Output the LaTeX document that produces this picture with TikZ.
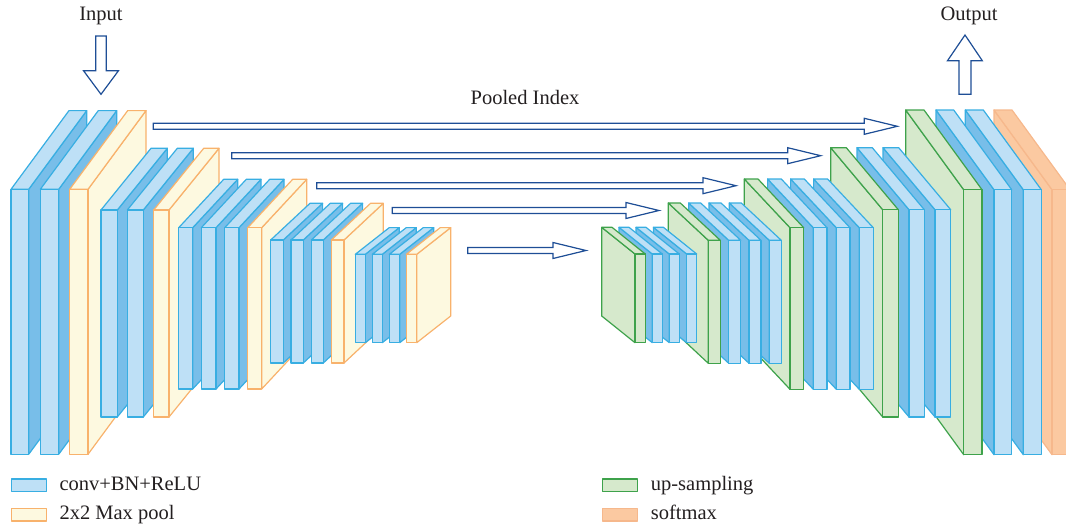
\documentclass[tikz,border=0pt]{standalone}
\usepackage{fontspec}
\setmainfont{Liberation Serif}
\usetikzlibrary{calc}

\definecolor{convfill}{RGB}{190,224,246}
\definecolor{convdark}{RGB}{120,190,233}
\definecolor{convline}{RGB}{56,174,226}
\definecolor{poolfill}{RGB}{253,249,224}
\definecolor{poolline}{RGB}{248,178,108}
\definecolor{upsfill}{RGB}{214,233,204}
\definecolor{upsline}{RGB}{62,162,75}
\definecolor{softfill}{RGB}{251,201,161}
\definecolor{softline}{RGB}{246,184,140}
\definecolor{idxblue}{RGB}{30,78,150}
\definecolor{txt}{RGB}{35,31,32}

\tikzset{
  face/.style={line width=1.2pt, line join=round},
  conv front/.style={face, fill=convfill, draw=convline},
  conv top/.style={conv front},
  conv side/.style={face, fill=convdark, draw=convline},
  pool front/.style={face, fill=poolfill, draw=poolline},
  pool top/.style={pool front},
  pool side/.style={pool front},
  ups front/.style={face, fill=upsfill, draw=upsline},
  ups top/.style={ups front},
  ups side/.style={ups front},
  soft front/.style={face, fill=softfill, draw=softline},
  soft top/.style={soft front},
  soft side/.style={soft front},
  idxarrow/.style={draw=idxblue, fill=white, line width=1.2pt, line join=miter},
  lbl/.style={text=txt, font=\fontsize{20.5}{24}\selectfont, inner sep=0pt},
  legbox/.style={minimum width=35pt, minimum height=12.7pt, inner sep=0pt,
                 anchor=north west, line width=1.3pt}
}

% encoder slab: depth goes up and to the right
% #1 kind, #2 x0, #3 x1, #4 y top, #5 y bottom, #6 dx, #7 dy
\newcommand\encslab[7]{%
  \draw[#1 side] (#3,#4) -- (#3,#5) -- ({#3+#6},{#5+#7}) -- ({#3+#6},{#4+#7}) -- cycle;
  \draw[#1 top] (#2,#4) -- (#3,#4) -- ({#3+#6},{#4+#7}) -- ({#2+#6},{#4+#7}) -- cycle;
  \draw[#1 front] (#2,#4) rectangle (#3,#5);
}
% decoder slab: depth goes up and to the left
\newcommand\decslab[7]{%
  \draw[#1 side] (#2,#4) -- (#2,#5) -- ({#2+#6},{#5+#7}) -- ({#2+#6},{#4+#7}) -- cycle;
  \draw[#1 top] (#2,#4) -- (#3,#4) -- ({#3+#6},{#4+#7}) -- ({#2+#6},{#4+#7}) -- cycle;
  \draw[#1 front] (#2,#4) rectangle (#3,#5);
}
% hollow horizontal arrow between two named coordinates
\newcommand\hollowarrow[2]{%
  \draw[idxarrow] ($(#1)+(0,-3)$) -- ($(#2)+(-33,-3)$) -- ($(#2)+(-33,-8)$) -- (#2)
    -- ($(#2)+(-33,8)$) -- ($(#2)+(-33,3)$) -- ($(#1)+(0,3)$) -- cycle;
}

\begin{document}
\begin{tikzpicture}[x=1pt,y=-1pt]
\useasboundingbox (0,0) rectangle (1066,527);
\clip (0,0) rectangle (1066,527);

% ---------------- encoder ----------------
\encslab{conv}{11}{28.7}{189.3}{454.3}{58}{-78.7}
\encslab{conv}{40.3}{58.7}{189.3}{454.3}{58}{-78.7}
\encslab{pool}{69.7}{88}{189.3}{454.3}{58}{-78.7}

\encslab{conv}{101}{117.3}{210}{417}{50}{-61.7}
\encslab{conv}{127.3}{143.3}{210}{417}{50}{-61.7}
\encslab{pool}{153.7}{169}{210}{417}{50}{-61.7}

\encslab{conv}{178.7}{192.7}{227.7}{389}{45}{-48.4}
\encslab{conv}{201.3}{216}{227.7}{389}{45}{-48.4}
\encslab{conv}{224.7}{239}{227.7}{389}{45}{-48.4}
\encslab{pool}{247.7}{261.7}{227.7}{389}{45}{-48.4}

\encslab{conv}{270.7}{283.3}{240}{363}{39.3}{-36.7}
\encslab{conv}{291}{303.3}{240}{363}{39.3}{-36.7}
\encslab{conv}{311.3}{323.3}{240}{363}{39.3}{-36.7}
\encslab{pool}{331.3}{344}{240}{363}{39.3}{-36.7}

\encslab{conv}{355.3}{365.3}{254.3}{342.7}{34}{-26.7}
\encslab{conv}{372.3}{382.3}{254.3}{342.7}{34}{-26.7}
\encslab{conv}{389.3}{399.7}{254.3}{342.7}{34}{-26.7}
\encslab{pool}{406.3}{416.7}{254.3}{342.7}{34}{-26.7}

% ---------------- decoder (painted right to left) ----------------
\decslab{soft}{1052}{1070}{189.7}{454.7}{-58}{-79.7}
\decslab{conv}{1023.3}{1041.3}{189.7}{454.7}{-58}{-79.7}
\decslab{conv}{994}{1011.7}{189.7}{454.7}{-58}{-79.7}
\decslab{ups}{963.7}{982}{189.7}{454.7}{-58}{-79.7}

\decslab{conv}{935}{950.7}{209.7}{417}{-52}{-62}
\decslab{conv}{909}{924.3}{209.7}{417}{-52}{-62}
\decslab{ups}{882.7}{898.3}{209.7}{417}{-52}{-62}

\decslab{conv}{859.3}{873.3}{227.7}{389.3}{-45.7}{-48.7}
\decslab{conv}{836.3}{850}{227.7}{389.3}{-45.7}{-48.7}
\decslab{conv}{813.3}{827}{227.7}{389.3}{-45.7}{-48.7}
\decslab{ups}{790}{803.7}{227.7}{389.3}{-45.7}{-48.7}

\decslab{conv}{769.3}{781.3}{240.3}{363.3}{-40}{-37.3}
\decslab{conv}{749}{761}{240.3}{363.3}{-40}{-37.3}
\decslab{conv}{728.7}{740.7}{240.3}{363.3}{-40}{-37.3}
\decslab{ups}{708.3}{720.3}{240.3}{363.3}{-40}{-37.3}

\decslab{conv}{686.7}{696.7}{254}{342.7}{-33.3}{-26.7}
\decslab{conv}{669.3}{679.3}{254}{342.7}{-33.3}{-26.7}
\decslab{conv}{652.3}{662.3}{254}{342.7}{-33.3}{-26.7}
\decslab{ups}{635}{645.3}{254}{342.7}{-33.3}{-26.7}

% ---------------- pooled index arrows ----------------
\coordinate (idx1s) at (153.3,126.3);  \coordinate (idx1e) at (897.3,126.3);
\coordinate (idx2s) at (231.7,155.7);  \coordinate (idx2e) at (820.7,155.7);
\coordinate (idx3s) at (316.7,185.7);  \coordinate (idx3e) at (736,185.7);
\coordinate (idx4s) at (392.3,210.5);  \coordinate (idx4e) at (659,210.5);
\coordinate (idx5s) at (467.7,250.5);  \coordinate (idx5e) at (586,250.5);
\hollowarrow{idx1s}{idx1e}
\hollowarrow{idx2s}{idx2e}
\hollowarrow{idx3s}{idx3e}
\hollowarrow{idx4s}{idx4e}
\hollowarrow{idx5s}{idx5e}

\node[lbl, anchor=base] (pooled) at (525,104) {Pooled Index};

% ---------------- input / output ----------------
\node[lbl, anchor=base] (input) at (101,21) {Input};
\node[lbl, anchor=base] (output) at (969,21) {Output};
\coordinate (intip) at (101,94.3);
\draw[idxarrow] (95.7,36) -- (106.3,36) -- (106.3,70.7) -- (118.5,70.7) -- (intip)
  -- (83.5,70.7) -- (95.7,70.7) -- cycle;
\coordinate (outtip) at (965,35);
\draw[idxarrow] (outtip) -- (982.3,60.7) -- (970.9,60.7) -- (970.9,94.3)
  -- (958.9,94.3) -- (958.9,60.7) -- (947.5,60.7) -- cycle;

% ---------------- legend ----------------
\node[conv front, legbox] (legconv) at (11,478.3) {};
\node[lbl, anchor=base west] (legconvt) at (59.3,490.7) {conv+BN+ReLU};
\node[pool front, legbox] (legpool) at (11,507.5) {};
\node[lbl, anchor=base west] (legpoolt) at (59.3,519.7) {2x2 Max pool};
\node[ups front, legbox] (legups) at (601.7,478.3) {};
\node[lbl, anchor=base west] (legupst) at (650.7,490.7) {up-sampling};
\node[soft front, legbox] (legsoft) at (601.7,507.5) {};
\node[lbl, anchor=base west] (legsoftt) at (650.7,519.7) {softmax};
\end{tikzpicture}
\end{document}
